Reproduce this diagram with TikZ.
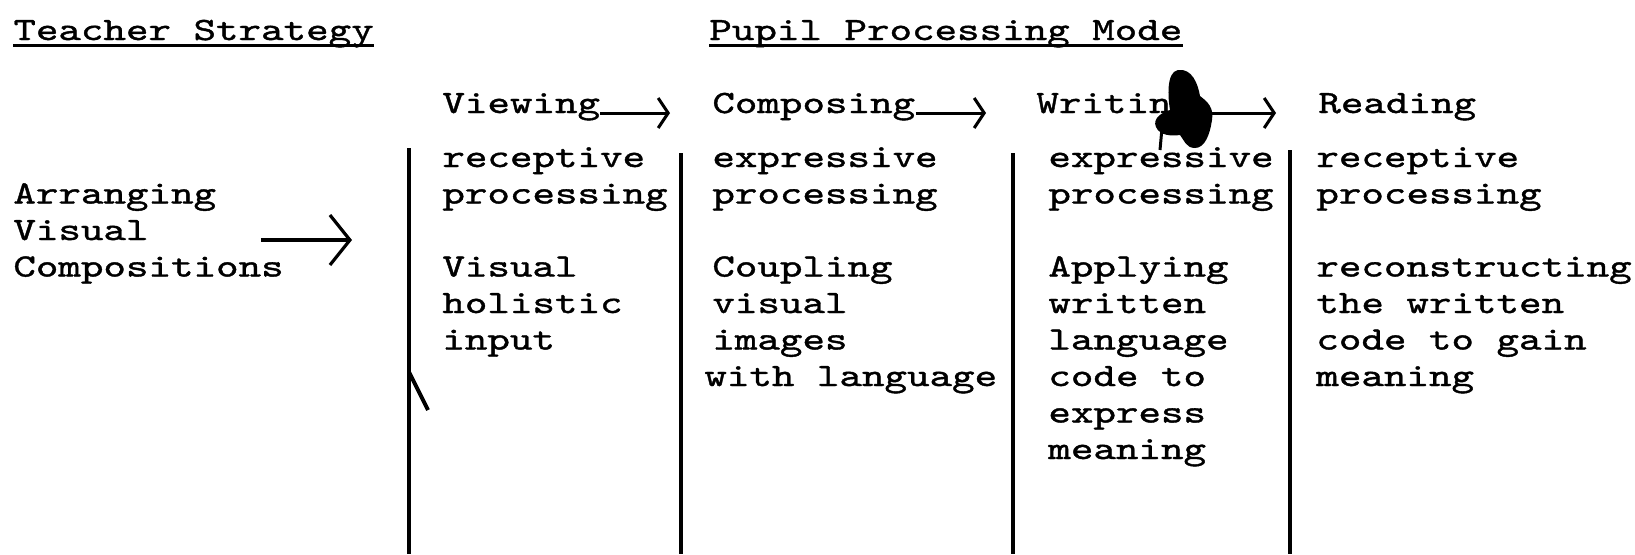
\documentclass[tikz,border=0pt]{standalone}
\usepackage{fontspec}
\newfontfamily\twfont{lmmono10-regular.otf}[FakeStretch=1.32,FakeBold=1.2]
\usetikzlibrary{arrows.meta}
\begin{document}
\begin{tikzpicture}[x=0.5pt,y=-0.5pt,
  txt/.style={anchor=base west,inner sep=0pt,font=\twfont\fontsize{16.25pt}{18pt}\selectfont},
  colrule/.style={line width=2pt},
  uline/.style={line width=1.5pt},
  parrow/.style={line width=1.5pt,-{Straight Barb[length=5pt,width=15pt,line width=1.5pt]}},
  bigarrow/.style={line width=1.6pt,-{Straight Barb[length=10pt,width=25pt,line width=1.6pt]}}]
\useasboundingbox (0,0) rectangle (1635,554);
% headings
\node[txt] (ts) at (13,40) {Teacher Strategy};
\node[txt] (pp) at (709,40) {Pupil Processing Mode};
\draw[uline] ([yshift=-2.7pt]ts.base west) -- ([yshift=-2.7pt]ts.base east);
\draw[uline] ([yshift=-2.7pt]pp.base west) -- ([yshift=-2.7pt]pp.base east);
% mode row
\node[txt] (view) at (442,113) {Viewing};
\node[txt] (comp) at (712,113) {Composing};
\node[txt] (writ) at (1036,113) {Writing};
\node[txt] (read) at (1318,113) {Reading};
\draw[parrow] (view.base east) -- ([xshift=-21pt]comp.base west);
\draw[parrow] (comp.base east) -- ([xshift=-25pt]writ.base west);
\draw[parrow] (writ.base east) -- ([xshift=-21pt]read.base west);
% teacher strategy
\node[txt] (l1) at (13,203.5) {Arranging};
\node[txt] (l2) at (13,240) {Visual};
\node[txt] (l3) at (13,276.5) {Compositions};
\coordinate (lt) at (352,240);
\draw[bigarrow] ([xshift=56pt]l2.base east) -- (lt);
% column rules
\coordinate (r1t) at (409,148); \coordinate (r1b) at (409,554);
\coordinate (r2t) at (681,153); \coordinate (r2b) at (681,554);
\coordinate (r3t) at (1013,153); \coordinate (r3b) at (1013,554);
\coordinate (r4t) at (1290,150); \coordinate (r4b) at (1290,554);
\draw[colrule] (r1t) -- (r1b);
\draw[colrule] (r2t) -- (r2b);
\draw[colrule] (r3t) -- (r3b);
\draw[colrule] (r4t) -- (r4b);
\coordinate (s1) at (409,372); \coordinate (s2) at (428,410);
\draw[colrule] (s1) -- (s2);
% column 1
\node[txt] (a0) at (442,167) {receptive};
\node[txt] (a1) at (442,203.5) {processing};
\node[txt] (a3) at (442,276.5) {Visual};
\node[txt] (a4) at (442,313) {holistic};
\node[txt] (a5) at (442,349.5) {input};
% column 2
\node[txt] (b0) at (712,167) {expressive};
\node[txt] (b1) at (712,203.5) {processing};
\node[txt] (b3) at (712,276.5) {Coupling};
\node[txt] (b4) at (712,313) {visual};
\node[txt] (b5) at (712,349.5) {images};
\node[txt] (b6) at (704,386) {with language};
% column 3
\node[txt] (c0) at (1048,167) {expressive};
\node[txt] (c1) at (1048,203.5) {processing};
\node[txt] (c3) at (1048,276.5) {Applying};
\node[txt] (c4) at (1048,313) {written};
\node[txt] (c5) at (1048,349.5) {language};
\node[txt] (c6) at (1048,386) {code to};
\node[txt] (c7) at (1048,422.5) {express};
\node[txt] (c8) at (1048,459) {meaning};
% column 4
\node[txt] (d0) at (1316,167) {receptive};
\node[txt] (d1) at (1316,203.5) {processing};
\node[txt] (d3) at (1316,276.5) {reconstructing};
\node[txt] (d4) at (1316,313) {the written};
\node[txt] (d5) at (1316,349.5) {code to gain};
\node[txt] (d6) at (1316,386) {meaning};
% ink blot over "Writing"
\fill (1178,70) .. controls (1192,68) and (1198,84) .. (1200,96)
  .. controls (1208,102) and (1214,108) .. (1212,120)
  .. controls (1210,134) and (1205,148) .. (1195,148)
  .. controls (1186,148) and (1184,140) .. (1180,135)
  .. controls (1172,136) and (1160,136) .. (1156,127)
  .. controls (1152,118) and (1163,112) .. (1170,110)
  .. controls (1168,98) and (1166,72) .. (1178,70) -- cycle;
\coordinate (k1) at (1162,128); \coordinate (k2) at (1160,150);
\draw[line width=1.5pt] (k1) -- (k2);
\end{tikzpicture}
\end{document}
